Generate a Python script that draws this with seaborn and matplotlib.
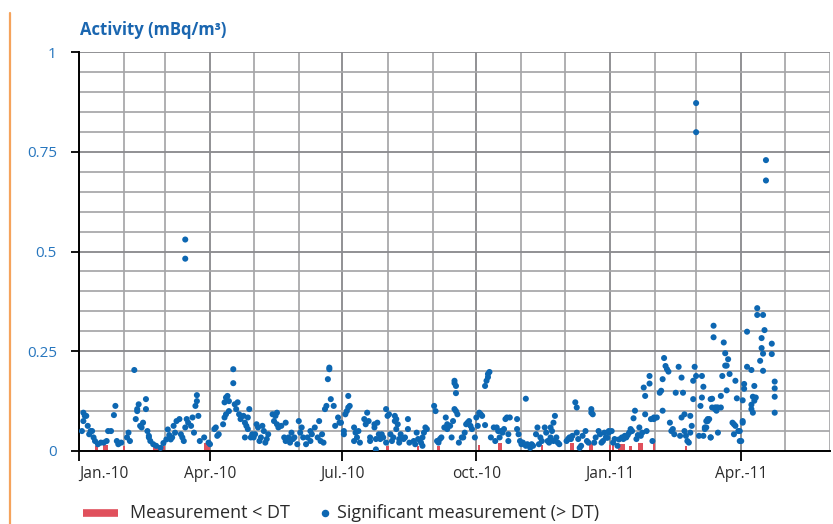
import numpy as np
import pandas as pd
import matplotlib
matplotlib.use("Agg")
import matplotlib.pyplot as plt
import matplotlib.dates as mdates
from matplotlib.lines import Line2D
import seaborn as sns

# ---------------- data (day offsets from 1 Jan 2010, activity in mBq/m3) ----------------
days_2010q1 = [2,3,3,4,5,6,7,8,9,10,11,13,15,17,19,20,22,24,25,26,27,29,
               33,34,35,38,39,40,40,41,42,43,44,46,46,47,48,48,49,51,53,56,58,
               60,61,62,63,64,65,66,67,69,70,71,72,73,73,73,74,75,77,78,79,80,81,81,82,83,86,89]
vals_2010q1 = [0.05,0.075,0.096,0.088,0.088,0.063,0.042,0.05,0.05,0.034,0.025,0.017,0.021,0.021,0.025,0.05,0.05,0.09,0.113,0.025,0.017,0.021,
               0.034,0.046,0.025,0.203,0.08,0.10,0.105,0.117,0.063,0.059,0.071,0.13,0.105,0.05,0.038,0.034,0.025,0.017,0.013,0.008,0.02,
               0.029,0.054,0.04,0.029,0.034,0.063,0.046,0.075,0.08,0.042,0.034,0.025,0.53,0.482,0.059,0.08,0.071,0.063,0.084,0.046,0.113,0.125,0.14,0.088,0.025,0.034,0.021]

days_2010q2 = [90,93,94,95,96,99,100,100,101,101,102,103,103,106,106,107,108,109,110,111,113,114,114,115,116,116,117,118,119,
               120,121,122,123,124,125,126,127,128,129,130,133,134,135,136,136,137,139,141,142,142,144,145,146,147,148,150,
               151,152,153,154,156,157,159,159,160,162,164,165,166,167,168,169,170,171,172,172,173,175,176,178,179]
vals_2010q2 = [0.017,0.055,0.059,0.038,0.042,0.067,0.122,0.084,0.092,0.134,0.138,0.125,0.10,0.205,0.17,0.117,0.105,0.122,0.092,0.08,0.088,0.034,0.071,0.063,0.084,0.055,0.105,0.034,0.042,
               0.034,0.042,0.067,0.059,0.025,0.034,0.063,0.05,0.021,0.03,0.042,0.092,0.075,0.088,0.067,0.096,0.059,0.063,0.034,0.071,0.025,0.034,0.021,0.046,0.03,0.034,0.017,
               0.075,0.046,0.059,0.034,0.017,0.034,0.05,0.025,0.042,0.059,0.034,0.075,0.025,0.042,0.021,0.105,0.113,0.18,0.209,0.205,0.13,0.113,0.063,0.084,0.071]

days_2010q3 = [180,182,182,183,184,185,185,186,189,189,190,191,192,193,196,197,198,199,200,200,203,203,204,204,205,206,207,208,209,211,
               211,212,213,214,215,216,217,217,218,218,219,220,220,221,223,224,226,226,227,230,231,232,233,235,236,236,237,238,239,
               244,245,246,247,248,249,251,252,253,253,255,256,257,258,258,259,259,258,259,260,261,263,264,265,266,267,268,269,270,272]
vals_2010q3 = [0.071,0.05,0.042,0.092,0.10,0.138,0.109,0.113,0.059,0.025,0.046,0.034,0.05,0.021,0.08,0.067,0.096,0.075,0.034,0.025,0.059,0.067,0.03,0.004,0.071,0.042,0.03,0.042,0.034,0.021,
               0.105,0.088,0.092,0.042,0.025,0.034,0.075,0.088,0.08,0.055,0.067,0.021,0.03,0.042,0.03,0.034,0.08,0.055,0.021,0.025,0.017,0.046,0.03,0.021,0.013,0.034,0.046,0.059,0.055,
               0.113,0.10,0.025,0.021,0.03,0.034,0.059,0.084,0.067,0.055,0.063,0.034,0.075,0.176,0.17,0.163,0.145,0.105,0.1,0.092,0.021,0.034,0.034,0.046,0.067,0.071,0.075,0.063,0.055,0.034]

days_2010q4 = [273,274,275,276,277,279,279,280,281,282,281,283,285,286,287,288,289,290,291,292,293,294,295,295,296,301,301,302,303,
               304,305,307,307,308,310,311,312,314,315,316,317,318,320,321,322,323,324,324,325,326,326,327,328,329,330,
               335,336,337,338,339,341,342,342,343,344,345,346,348,349,350,352,352,353,354,355,357,358,359,360,361,362,364]
vals_2010q4 = [0.084,0.063,0.096,0.092,0.088,0.065,0.163,0.176,0.193,0.198,0.185,0.034,0.059,0.025,0.059,0.05,0.034,0.05,0.046,0.055,0.08,0.084,0.025,0.042,0.084,0.055,0.08,0.042,0.025,
               0.017,0.021,0.131,0.013,0.017,0.008,0.017,0.013,0.042,0.059,0.017,0.034,0.025,0.059,0.046,0.025,0.021,0.034,0.059,0.05,0.071,0.025,0.088,0.034,0.021,0.017,
               0.025,0.03,0.034,0.03,0.038,0.122,0.109,0.046,0.03,0.008,0.013,0.038,0.05,0.025,0.021,0.105,0.096,0.092,0.021,0.034,0.05,0.042,0.021,0.025,0.046,0.034,0.05]

days_2011q1 = [363,364,366,367,368,370,371,373,374,375,376,377,378,379,380,381,382,383,384,385,386,387,388,389,389,390,392,392,393,394,395,395,
               397,399,400,401,401,402,403,404,405,406,407,408,409,410,412,413,414,414,415,416,416,417,418,419,420,420,421,422,422,423,
               424,424,424,426,427,428,428,429,429,430,430,431,431,432,432,433,434,434,434,435,435,436,436,437,437,438,438,439,439,
               441,441,442,443,444,444,445,445,446,447,449,450,450,451,451,452,453,454,454]
vals_2011q1 = [0.033,0.046,0.05,0.021,0.03,0.013,0.029,0.034,0.03,0.038,0.034,0.04,0.046,0.055,0.05,0.082,0.101,0.03,0.04,0.059,0.038,0.046,0.159,0.138,0.092,0.05,0.169,0.188,0.08,0.025,0.084,0.08,
               0.084,0.146,0.151,0.18,0.101,0.233,0.213,0.205,0.199,0.071,0.05,0.055,0.042,0.146,0.211,0.038,0.084,0.184,0.146,0.092,0.05,0.038,0.025,0.021,0.046,0.088,0.063,0.13,0.176,0.211,
               0.872,0.799,0.188,0.038,0.113,0.188,0.134,0.161,0.038,0.055,0.059,0.075,0.059,0.08,0.075,0.08,0.034,0.034,0.13,0.131,0.109,0.314,0.285,0.105,0.109,0.101,0.109,0.109,0.046,
               0.109,0.138,0.188,0.272,0.245,0.214,0.214,0.152,0.23,0.193,0.071,0.067,0.042,0.063,0.176,0.132,0.05,0.05,0.025]

days_2011q2 = [455,456,456,456,457,457,459,459,462,462,462,463,463,464,464,465,466,466,468,469,469,470,470,470,471,472,472,476,476,478,478,478,478]
vals_2011q2 = [0.025,0.075,0.127,0.071,0.168,0.156,0.299,0.211,0.203,0.116,0.105,0.096,0.136,0.126,0.163,0.134,0.358,0.341,0.226,0.283,0.258,0.341,0.244,0.201,0.303,0.729,0.678,0.269,0.243,0.174,0.157,0.136,0.096]

# measurements below the detection threshold (DT)
dt_days = [12,17,18,19,31,52,53,54,55,58,87,89,212,233,247,275,289,290,310,318,338,339,345,351,352,
           365,367,371,372,373,374,379,385,386,387,395,417]
dt_vals = [0.012,0.015,0.015,0.015,0.012,0.014,0.014,0.014,0.014,0.012,0.02,0.018,0.013,0.013,0.012,0.014,0.02,0.02,0.016,0.014,0.02,0.02,0.016,0.02,0.02,
           0.016,0.014,0.018,0.018,0.018,0.018,0.012,0.021,0.021,0.021,0.022,0.012]

x_tick_dates = ["2010-01-01", "2010-04-01", "2010-07-01", "2010-10-01", "2011-01-01", "2011-04-01"]
x_tick_labels = ["Jan.-10", "Apr.-10", "Jul.-10", "oct.-10", "Jan.-11", "Apr.-11"]
y_ticks = [0, 0.25, 0.5, 0.75, 1]
y_tick_labels = ["0", "0.25", "0.5", "0.75", "1"]
title_text = "Activity (mBq/m³)"
legend_labels = ["Measurement < DT", "Significant measurement (> DT)"]

# ---------------- build tables ----------------
start = pd.Timestamp("2010-01-01")
sig = pd.concat([
    pd.DataFrame({"day": d, "value": v}) for d, v in [
        (days_2010q1, vals_2010q1), (days_2010q2, vals_2010q2), (days_2010q3, vals_2010q3),
        (days_2010q4, vals_2010q4), (days_2011q1, vals_2011q1), (days_2011q2, vals_2011q2)]
], ignore_index=True)
sig["date"] = start + pd.to_timedelta(sig["day"], unit="D")
below = pd.DataFrame({"date": start + pd.to_timedelta(dt_days, unit="D"), "value": dt_vals})

# ---------------- style ----------------
sns.set_theme(style="white")
plt.rcParams["font.family"] = ["Open Sans", "DejaVu Sans"]

BLUE = "#0d67b2"
LABEL_BLUE = "#2776be"
RED = "#e0505c"
GRID = "#a6a6a8"
GRID_DARK = "#8c8c90"

W, H = 833, 524
fig = plt.figure(figsize=(W / 100, H / 100), dpi=100)
ax = fig.add_axes([79 / W, 1 - 451 / H, (830 - 79) / W, (451 - 52) / H])

# bars for measurements < DT
ax.bar(below["date"], below["value"], width=1.7, color=RED, linewidth=0, zorder=2)
# significant measurements
sns.scatterplot(data=sig, x="date", y="value", ax=ax, s=19, color=BLUE,
                edgecolor="none", linewidth=0, zorder=3, legend=False)

ax.set_xlim(pd.Timestamp("2010-01-01"), pd.Timestamp("2011-06-01"))
ax.set_ylim(0, 1)

# ticks
tick_dates = pd.to_datetime(x_tick_dates)
ax.set_xticks(tick_dates)
ax.set_xticklabels(x_tick_labels)
ax.xaxis.set_minor_locator(mdates.MonthLocator())
ax.set_yticks(y_ticks)
ax.set_yticklabels(y_tick_labels)
ax.yaxis.set_minor_locator(matplotlib.ticker.MultipleLocator(0.05))

ax.tick_params(axis="x", which="major", direction="out", length=7, width=1.3,
               color="black", labelsize=11.2, labelcolor="#2b2b2b", pad=4, bottom=True)
ax.tick_params(axis="y", which="major", direction="out", length=6, width=1.3,
               color="black", labelsize=11, labelcolor=LABEL_BLUE, pad=10, left=True)
ax.tick_params(which="minor", length=0)
for lab in ax.get_xticklabels()[:1]:
    lab.set_horizontalalignment("left")

# grid
ax.grid(which="minor", axis="both", color=GRID, linewidth=1.25, zorder=0)
ax.grid(which="major", axis="both", color=GRID_DARK, linewidth=1.35, zorder=0)
ax.set_axisbelow(True)

for side in ["top", "right"]:
    ax.spines[side].set_visible(False)
for side in ["left", "bottom"]:
    ax.spines[side].set_color("black")
    ax.spines[side].set_linewidth(1.4)
ax.set_xlabel("")
ax.set_ylabel("")

# title
fig.text(80 / W, 1 - 30 / H, title_text, color="#1a66b0", fontsize=12,
         fontweight="bold", ha="left", va="center")

# decorative orange line on the left
fig.add_artist(Line2D([10 / W, 10 / W], [0, 1 - 13 / H], color="#f5a35c", linewidth=1.6))

# legend (drawn manually)
ly = 1 - 513 / H
fig.add_artist(Line2D([83 / W, 118 / W], [ly, ly], color=RED, linewidth=5.5, solid_capstyle="butt"))
fig.text(130 / W, ly, legend_labels[0], fontsize=13, color="#2b2b2b", ha="left", va="center")
fig.add_artist(Line2D([325 / W], [ly], marker="o", markersize=4.4, color=BLUE, linestyle="none"))
fig.text(337 / W, ly, legend_labels[1], fontsize=13, color="#2b2b2b", ha="left", va="center")

fig.savefig("out.png", dpi=100)
